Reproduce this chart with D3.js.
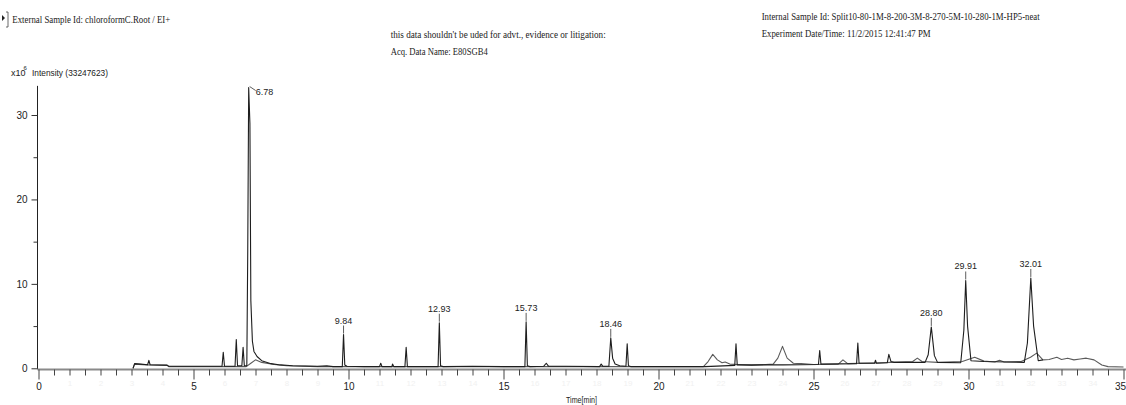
<!DOCTYPE html>
<html>
<head>
<meta charset="utf-8">
<script src="https://cdn.jsdelivr.net/npm/d3@7"></script>
<style>
  html, body { margin: 0; padding: 0; background: #fff; }
  svg { display: block; }
  .serif { font-family: "Liberation Serif", "DejaVu Serif", serif; fill: #222; }
  .sans { font-family: "Liberation Sans Narrow", "Liberation Sans", Arial, sans-serif; fill: #222; }
</style>
</head>
<body>
<svg id="chart" width="1126" height="405"></svg>
<script>
// Total ion chromatogram: time (min) vs intensity (x10^6 counts)

// Sharp-peak trace: [time, intensity]
const traceA = [
  [3.05, 0.0], [3.1, 0.55], [3.3, 0.5], [3.52, 0.42], [3.56, 0.95], [3.6, 0.42],
  [4.15, 0.38], [4.2, 0.25], [5.92, 0.25], [5.96, 1.9], [6.0, 0.25],
  [6.34, 0.25], [6.38, 3.4], [6.42, 0.3], [6.56, 0.3], [6.6, 2.5], [6.64, 0.3],
  [6.72, 0.3], [6.75, 14.0], [6.78, 33.25], [6.82, 29.0], [6.85, 8.0], [6.9, 3.2],
  [6.95, 2.0], [7.05, 1.4], [7.2, 0.9], [7.5, 0.55], [7.8, 0.4], [8.2, 0.3],
  [9.0, 0.25], [9.3, 0.3], [9.5, 0.2], [9.8, 0.2], [9.84, 4.0], [9.88, 0.4], [9.95, 0.25],
  [10.5, 0.2], [11.0, 0.2], [11.04, 0.6], [11.08, 0.2], [11.4, 0.2], [11.42, 0.5], [11.46, 0.2],
  [11.82, 0.2], [11.86, 2.5], [11.9, 0.2], [12.89, 0.2], [12.93, 5.4], [12.97, 0.3], [13.05, 0.2],
  [14.0, 0.25], [15.0, 0.2], [15.69, 0.2], [15.73, 5.5], [15.77, 0.3], [15.85, 0.2],
  [16.3, 0.25], [16.38, 0.6], [16.45, 0.25], [17.0, 0.25],
  [18.1, 0.2], [18.15, 0.5], [18.2, 0.25], [18.4, 0.25], [18.46, 3.6], [18.52, 1.2],
  [18.6, 0.5], [18.75, 0.3], [18.95, 0.25], [18.99, 2.9], [19.03, 0.3], [19.1, 0.2],
  [21.5, 0.2], [22.46, 0.35], [22.5, 2.9], [22.54, 0.4], [24.0, 0.4],
  [25.16, 0.45], [25.2, 2.1], [25.24, 0.5], [26.39, 0.55], [26.43, 3.0], [26.47, 0.6],
  [26.97, 0.6], [27.0, 0.95], [27.03, 0.6], [27.38, 0.65], [27.43, 1.65], [27.5, 0.8],
  [27.6, 0.7], [28.6, 0.7], [28.7, 1.6], [28.8, 4.9], [28.9, 1.5], [29.0, 0.7],
  [29.75, 0.65], [29.85, 4.5], [29.91, 10.4], [29.97, 5.0], [30.08, 0.9],
  [30.5, 0.8], [31.8, 0.7], [31.9, 3.0], [32.01, 10.7], [32.1, 5.0], [32.25, 0.9], [32.4, 1.0]
];

// Broad-hump trace: [time, intensity]
const traceB = [
  [3.05, 0.0], [3.1, 0.5], [3.5, 0.4], [4.15, 0.35], [4.2, 0.2], [6.7, 0.2],
  [6.85, 0.6], [7.0, 1.0], [7.2, 0.7], [7.6, 0.45], [8.0, 0.3], [9.0, 0.2],
  [21.45, 0.2], [21.6, 0.8], [21.75, 1.65], [21.9, 1.0], [22.05, 0.65], [22.15, 0.75],
  [22.3, 0.5], [23.0, 0.35], [23.7, 0.5], [23.85, 1.2], [24.0, 2.6], [24.15, 1.2],
  [24.35, 0.6], [24.6, 0.55], [25.0, 0.45], [25.8, 0.5], [25.95, 1.0], [26.1, 0.55],
  [27.2, 0.65], [27.5, 0.7], [28.2, 0.8], [28.35, 1.2], [28.5, 0.8], [29.0, 0.7],
  [29.8, 0.8], [30.2, 1.3], [30.5, 0.85], [30.85, 0.75], [31.0, 0.95], [31.15, 0.75],
  [31.7, 0.8], [32.0, 1.3], [32.2, 1.8], [32.4, 1.0], [32.6, 1.05], [32.85, 1.3],
  [33.0, 1.05], [33.2, 1.2], [33.4, 1.0], [33.6, 1.1], [33.8, 1.2], [34.05, 1.0],
  [34.3, 0.4], [34.5, 0.2], [35.0, 0.15]
];

// Labelled retention times and their apex intensities
const peakTimes = [6.78, 9.84, 12.93, 15.73, 18.46, 28.80, 29.91, 32.01];
const peakHeights = [33.25, 4.0, 5.4, 5.5, 3.6, 4.9, 10.4, 10.7];

// Axis ticks
const yMajorTicks = [0, 10, 20, 30];
const yMinorTicks = [5, 15, 25];
const xMajorTicks = [0, 5, 10, 15, 20, 25, 30, 35];
const xMinorStep = 0.5;

// Header text
const headerLeft = "External Sample Id: chloroformC.Root / EI+";
const headerMid = ["this data shouldn't be uded for advt., evidence or litigation:", "Acq. Data Name: E80SGB4"];
const headerRight = ["Internal Sample Id: Split10-80-1M-8-200-3M-8-270-5M-10-280-1M-HP5-neat",
                     "Experiment Date/Time: 11/2/2015 12:41:47 PM"];
const yTitle = "Intensity (33247623)";
const xTitle = "Time[min]";

const svg = d3.select("#chart");
const x = d3.scaleLinear().domain([0, 35]).range([38.5, 1123.5]);
const y = d3.scaleLinear().domain([0, 30]).range([368.3, 115]);

// ---- header ----
svg.append("path").attr("d", "M2,15 L5,18 L2,21 Z").attr("fill", "#222");
svg.append("path").attr("d", "M6,12 H8 V27 H6").attr("fill", "none").attr("stroke", "#444").attr("stroke-width", 0.8);
svg.append("text").attr("class", "serif").attr("x", 12.3).attr("y", 22.5)
  .attr("font-size", 11).attr("textLength", 158).attr("lengthAdjust", "spacingAndGlyphs").text(headerLeft);
[[37.5, 215], [54.5, 97]].forEach(([yy, w], i) => {
  svg.append("text").attr("class", "serif").attr("x", 390.7).attr("y", yy)
    .attr("font-size", 11).attr("textLength", w).attr("lengthAdjust", "spacingAndGlyphs").text(headerMid[i]);
});
[[20.3, 278], [36.8, 169]].forEach(([yy, w], i) => {
  svg.append("text").attr("class", "serif").attr("x", 761.7).attr("y", yy)
    .attr("font-size", 11).attr("textLength", w).attr("lengthAdjust", "spacingAndGlyphs").text(headerRight[i]);
});

// ---- y axis ----
svg.append("text").attr("class", "sans").attr("x", 11).attr("y", 76).attr("font-size", 9).text("x10");
svg.append("text").attr("class", "sans").attr("x", 23.5).attr("y", 70).attr("font-size", 6).text("6");
svg.append("text").attr("class", "sans").attr("x", 32).attr("y", 75.5).attr("font-size", 9)
  .attr("textLength", 76).attr("lengthAdjust", "spacingAndGlyphs").text(yTitle);

const gy = svg.append("g").attr("transform", `translate(${x(0) - 1},0)`);
gy.append("line").attr("x1", 0).attr("x2", 0).attr("y1", y(0) + 1).attr("y2", y(33.45))
  .attr("stroke", "#222").attr("stroke-width", 1);
const yMaj = gy.append("g").call(d3.axisLeft(y).tickValues(yMajorTicks).tickSize(6).tickSizeOuter(0));
yMaj.select(".domain").remove();
yMaj.selectAll("line").attr("stroke", "#333");
yMaj.selectAll("text").attr("class", "sans").attr("font-size", 10).attr("fill", "#222")
  .attr("font-family", "Liberation Sans Narrow, Liberation Sans, Arial, sans-serif").attr("dx", "-1");
const yMin = gy.append("g").call(d3.axisLeft(y).tickValues(yMinorTicks).tickSize(4).tickFormat(""));
yMin.select(".domain").remove();
yMin.selectAll("line").attr("stroke", "#333");

// ---- x axis ----
const axisY = 369.5;
const gx = svg.append("g").attr("transform", `translate(0,${axisY})`);
gx.append("line").attr("x1", x(0) - 1).attr("x2", 1126).attr("y1", 0).attr("y2", 0)
  .attr("stroke", "#8a8a8a").attr("stroke-width", 2.2);
const minorVals = d3.range(0, 35 + 1e-9, xMinorStep).filter(v => !xMajorTicks.includes(v));
const xMin = gx.append("g").call(d3.axisBottom(x).tickValues(minorVals).tickSize(6).tickFormat(""));
xMin.select(".domain").remove();
xMin.selectAll("line").attr("stroke", "#444");
// faint integer labels between the major ones
xMin.selectAll(".tick").filter(d => Number.isInteger(d)).append("text")
  .attr("y", 14).attr("dy", "0.32em").attr("text-anchor", "middle")
  .attr("font-size", 8).attr("fill", "#f1f1f1").attr("font-family", "Liberation Sans, Arial, sans-serif")
  .text(d => d);
const xMaj = gx.append("g").call(d3.axisBottom(x).tickValues(xMajorTicks).tickSize(10).tickPadding(3));
xMaj.select(".domain").remove();
xMaj.selectAll("line").attr("stroke", "#444");
xMaj.selectAll("text").attr("font-size", 10).attr("fill", "#222")
  .attr("font-family", "Liberation Sans Narrow, Liberation Sans, Arial, sans-serif");
// keep the last label inside the frame
xMaj.selectAll(".tick").filter(d => d === 35).select("text")
  .attr("text-anchor", "end").attr("x", 2);
svg.append("text").attr("class", "sans").attr("x", 566).attr("y", 402.5).attr("font-size", 9.5)
  .attr("textLength", 31).attr("lengthAdjust", "spacingAndGlyphs").text(xTitle);

// ---- traces ----
const line = d3.line().x(d => x(d[0])).y(d => y(d[1]));
svg.append("path").datum(traceB).attr("d", line)
  .attr("fill", "none").attr("stroke", "#5a5a5a").attr("stroke-width", 1.1).attr("stroke-linejoin", "round");
svg.append("path").datum(traceA).attr("d", line)
  .attr("fill", "none").attr("stroke", "#1e1e1e").attr("stroke-width", 1.1).attr("stroke-linejoin", "round");

// ---- peak labels ----
peakTimes.forEach((t, i) => {
  const px = x(t), py = y(peakHeights[i]);
  const label = t.toFixed(2);
  if (i === 0) {
    // leader for the base peak runs off to the right
    svg.append("line").attr("x1", px + 1).attr("y1", py - 1).attr("x2", px + 7).attr("y2", py + 3)
      .attr("stroke", "#333").attr("stroke-width", 0.8);
    svg.append("text").attr("class", "sans").attr("x", px + 7).attr("y", py + 7.5)
      .attr("font-size", 9).text(label);
  } else {
    svg.append("line").attr("x1", px).attr("x2", px).attr("y1", py - 1).attr("y2", py - 9)
      .attr("stroke", "#333").attr("stroke-width", 0.8);
    svg.append("text").attr("class", "sans").attr("x", px).attr("y", py - 11)
      .attr("text-anchor", "middle").attr("font-size", 9).text(label);
  }
});
</script>
</body>
</html>
